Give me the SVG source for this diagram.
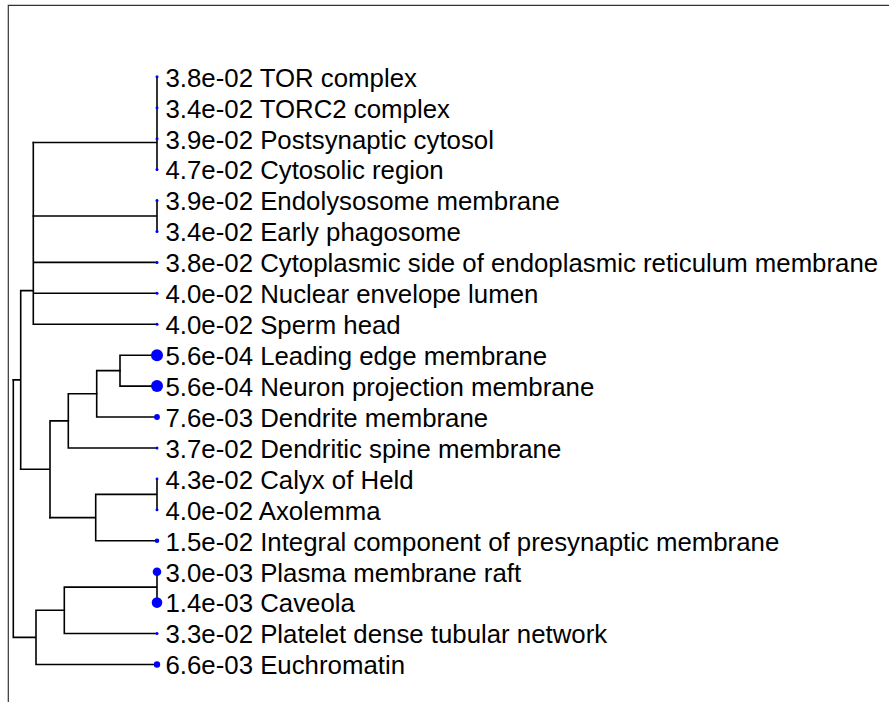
<svg xmlns="http://www.w3.org/2000/svg" width="889" height="702" viewBox="0 0 889 702">
<style>
.frame{fill:none;stroke:#333;stroke-width:1.2}
.edge{fill:none;stroke:#000;stroke-width:1.6;stroke-linecap:square}
.dot{fill:#0000ff}
.lbl{font-family:"Liberation Sans",Arial,sans-serif;font-size:25.8px;fill:#000}
</style>
<rect width="889" height="702" fill="#fff"/>
<path class="frame" d="M8.3,702 V5.3 H889"/>
<g id="connectors" class="edge">
<path d="M157,76.8 V169.6 M33.3,142.5 H157"/>
<path d="M157,200.5 V231.5 M33.3,216 H157"/>
<path d="M33.3,142.5 V324.2 M33.3,262.4 H157 M33.3,293.3 H157 M33.3,324.2 H157"/>
<path d="M20.7,290.6 H33.3 M20.7,290.6 V469.2 M13.3,379.9 H20.7"/>
<path d="M120,355.2 V386.1 M120,355.2 H157 M120,386.1 H157"/>
<path d="M96.7,370.65 H120 M96.7,370.65 V417 M96.7,417 H157"/>
<path d="M68.3,393.8 H96.7 M68.3,393.8 V448 M68.3,448 H157"/>
<path d="M50,420.9 H68.3 M50,420.9 V517.6 M20.7,469.2 H50"/>
<path d="M157,478.9 V509.8 M95.7,494.35 H157 M95.7,494.35 V540.8 M95.7,540.8 H157 M50,517.6 H95.7"/>
<path d="M157,571.7 V602.6 M64.3,587.15 H157 M64.3,587.15 V633.5 M64.3,633.5 H157"/>
<path d="M36,610.3 H64.3 M36,610.3 V664.5 M36,664.5 H157 M13.3,637.4 H36 M13.3,379.9 V637.4"/>
</g>
<g id="n0"><circle class="dot" cx="157" cy="76.8" r="1.5"/><text class="lbl" x="165.5" y="86.6">3.8e-02 TOR complex</text></g>
<g id="n1"><circle class="dot" cx="157" cy="107.7" r="1.5"/><text class="lbl" x="165.5" y="117.5">3.4e-02 TORC2 complex</text></g>
<g id="n2"><circle class="dot" cx="157" cy="138.7" r="1.5"/><text class="lbl" x="165.5" y="148.5">3.9e-02 Postsynaptic cytosol</text></g>
<g id="n3"><circle class="dot" cx="157" cy="169.6" r="1.5"/><text class="lbl" x="165.5" y="179.4">4.7e-02 Cytosolic region</text></g>
<g id="n4"><circle class="dot" cx="157" cy="200.5" r="1.5"/><text class="lbl" x="165.5" y="210.3">3.9e-02 Endolysosome membrane</text></g>
<g id="n5"><circle class="dot" cx="157" cy="231.5" r="1.5"/><text class="lbl" x="165.5" y="241.3">3.4e-02 Early phagosome</text></g>
<g id="n6"><circle class="dot" cx="157" cy="262.4" r="1.5"/><text class="lbl" x="165.5" y="272.2">3.8e-02 Cytoplasmic side of endoplasmic reticulum membrane</text></g>
<g id="n7"><circle class="dot" cx="157" cy="293.3" r="1.5"/><text class="lbl" x="165.5" y="303.1">4.0e-02 Nuclear envelope lumen</text></g>
<g id="n8"><circle class="dot" cx="157" cy="324.2" r="1.5"/><text class="lbl" x="165.5" y="334">4.0e-02 Sperm head</text></g>
<g id="n9"><circle class="dot" cx="157" cy="355.2" r="6"/><text class="lbl" x="165.5" y="365">5.6e-04 Leading edge membrane</text></g>
<g id="n10"><circle class="dot" cx="157" cy="386.1" r="6"/><text class="lbl" x="165.5" y="395.9">5.6e-04 Neuron projection membrane</text></g>
<g id="n11"><circle class="dot" cx="157" cy="417" r="2.9"/><text class="lbl" x="165.5" y="426.8">7.6e-03 Dendrite membrane</text></g>
<g id="n12"><circle class="dot" cx="157" cy="448" r="1.5"/><text class="lbl" x="165.5" y="457.8">3.7e-02 Dendritic spine membrane</text></g>
<g id="n13"><circle class="dot" cx="157" cy="478.9" r="1.4"/><text class="lbl" x="165.5" y="488.7">4.3e-02 Calyx of Held</text></g>
<g id="n14"><circle class="dot" cx="157" cy="509.8" r="1.5"/><text class="lbl" x="165.5" y="519.6">4.0e-02 Axolemma</text></g>
<g id="n15"><circle class="dot" cx="157" cy="540.8" r="2.3"/><text class="lbl" x="165.5" y="550.6">1.5e-02 Integral component of presynaptic membrane</text></g>
<g id="n16"><circle class="dot" cx="157" cy="571.7" r="4.3"/><text class="lbl" x="165.5" y="581.5">3.0e-03 Plasma membrane raft</text></g>
<g id="n17"><circle class="dot" cx="157" cy="602.6" r="5.3"/><text class="lbl" x="165.5" y="612.4">1.4e-03 Caveola</text></g>
<g id="n18"><circle class="dot" cx="157" cy="633.5" r="1.5"/><text class="lbl" x="165.5" y="643.3">3.3e-02 Platelet dense tubular network</text></g>
<g id="n19"><circle class="dot" cx="157" cy="664.5" r="3.2"/><text class="lbl" x="165.5" y="674.3">6.6e-03 Euchromatin</text></g>
</svg>
